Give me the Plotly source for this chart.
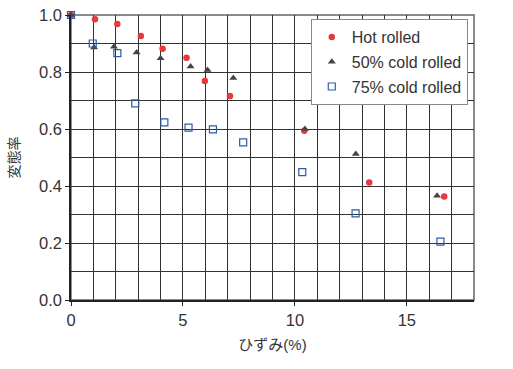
import plotly.graph_objects as go

hot_x = [0, 1.07, 2.07, 3.12, 4.09, 5.16, 5.98, 7.1, 10.42, 13.32, 16.67]
hot_y = [1.0, 0.985, 0.968, 0.926, 0.882, 0.850, 0.768, 0.716, 0.594, 0.412, 0.363]

c50_x = [0, 1.03, 1.92, 2.93, 4.0, 5.34, 6.1, 7.25, 10.45, 12.72, 16.35]
c50_y = [1.0, 0.886, 0.889, 0.868, 0.848, 0.819, 0.807, 0.779, 0.600, 0.512, 0.366]

c75_x = [0, 0.97, 2.07, 2.87, 4.17, 5.25, 6.34, 7.69, 10.33, 12.71, 16.5]
c75_y = [1.0, 0.90, 0.866, 0.69, 0.623, 0.605, 0.599, 0.553, 0.449, 0.304, 0.205]

x_ticks = [0, 5, 10, 15]
y_ticks = [0.0, 0.2, 0.4, 0.6, 0.8, 1.0]

FONT = "Liberation Sans, Arial, Noto Sans CJK JP, sans-serif"

fig = go.Figure()
fig.add_trace(go.Scatter(x=hot_x, y=hot_y, mode="markers", name="Hot rolled",
                         legendgroup="a", cliponaxis=False,
                         marker=dict(symbol="circle", size=6.5, color="#e8383d")))
fig.add_trace(go.Scatter(x=c50_x, y=c50_y, mode="markers", name="50% cold rolled",
                         legendgroup="b", cliponaxis=False,
                         marker=dict(symbol="triangle-up", size=7, color="#444444")))
fig.add_trace(go.Scatter(x=c75_x, y=c75_y, mode="markers", name="75% cold rolled",
                         legendgroup="c", cliponaxis=False,
                         marker=dict(symbol="square-open", size=7, color="#2a5caa",
                                     line=dict(width=1.2, color="#2a5caa"))))

fig.update_layout(
    width=513, height=369,
    margin=dict(l=71, r=39, t=15, b=69, autoexpand=False),
    paper_bgcolor="white", plot_bgcolor="white",
    font=dict(family=FONT, color="#333333", size=16.5),
    showlegend=True,
    legend=dict(x=0.595, y=0.986, xanchor="left", yanchor="top",
                bgcolor="white", bordercolor="#888888", borderwidth=1,
                font=dict(size=16, color="#333333"), tracegroupgap=1,
                itemwidth=30),
)
fig.update_xaxes(range=[0, 18], tickvals=x_ticks, ticktext=[str(v) for v in x_ticks],
                 automargin=False, ticklabeloverflow="allow",
                 showgrid=True, gridcolor="#333333", gridwidth=1,
                 showline=True, linecolor="#222222", linewidth=1.5, mirror=False,
                 ticks="outside", ticklen=4, tickcolor="#222222",
                 zeroline=False,
                 title=dict(text="ひずみ(%)", font=dict(size=15), standoff=12),
                 minor=dict(dtick=1, tick0=0, showgrid=True, gridcolor="#333333", gridwidth=1, ticks=""))
fig.update_yaxes(range=[0, 1.0], tickvals=y_ticks, ticktext=[f"{v:.1f}" for v in y_ticks],
                 automargin=False, ticklabeloverflow="allow",
                 showgrid=True, gridcolor="#333333", gridwidth=1,
                 showline=True, linecolor="#222222", linewidth=1.5,
                 ticks="outside", ticklen=4, tickcolor="#222222",
                 zeroline=False,
                 title=dict(text="変態率", font=dict(size=14), standoff=16),
                 minor=dict(dtick=0.1, tick0=0, showgrid=True, gridcolor="#333333", gridwidth=1, ticks=""))

# right and top border
fig.add_shape(type="rect", xref="paper", yref="paper", x0=0, y0=0, x1=1, y1=1,
              line=dict(color="#666666", width=1.5), layer="below")

fig.write_html("out.html", config={"displayModeBar": False},
               post_script="document.body.style.margin='0';")
